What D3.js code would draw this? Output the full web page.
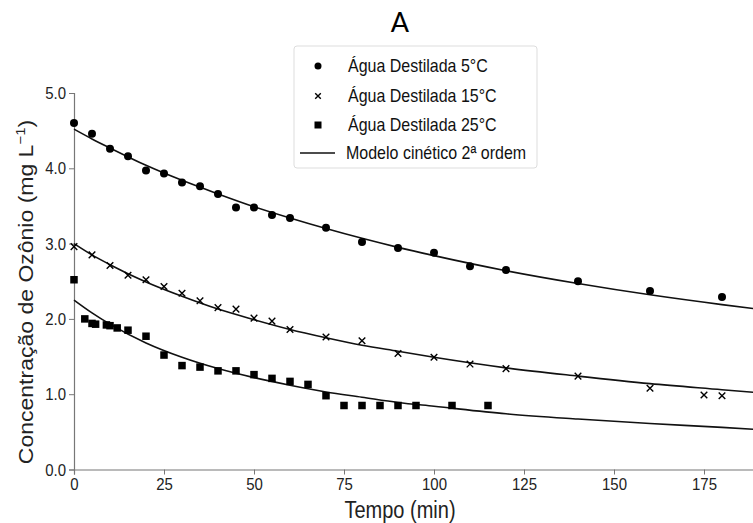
<!DOCTYPE html>
<html>
<head>
<meta charset="utf-8">
<script src="https://cdn.jsdelivr.net/npm/d3@7"></script>
<style>
  body { margin: 0; background: #fff; }
  svg { display: block; font-family: "Liberation Sans", Arial, sans-serif; }
</style>
</head>
<body>
<div id="chart"></div>
<script>
// measured points (min, mg/L)
const t5 = [0, 5, 10, 15, 20, 25, 30, 35, 40, 45, 50, 55, 60, 70, 80, 90, 100, 110, 120, 140, 160, 180];
const c5 = [4.60, 4.46, 4.26, 4.16, 3.97, 3.93, 3.81, 3.76, 3.66, 3.48, 3.48, 3.38, 3.34, 3.21, 3.02, 2.94, 2.88, 2.70, 2.65, 2.50, 2.37, 2.29];

const t15 = [0, 5, 10, 15, 20, 25, 30, 35, 40, 45, 50, 55, 60, 70, 80, 90, 100, 110, 120, 140, 160, 175, 180];
const c15 = [2.96, 2.85, 2.71, 2.58, 2.52, 2.43, 2.34, 2.24, 2.15, 2.13, 2.01, 1.97, 1.86, 1.76, 1.71, 1.54, 1.49, 1.40, 1.34, 1.24, 1.08, 0.99, 0.98];

const t25 = [0, 3, 5, 6, 9, 10, 12, 15, 20, 25, 30, 35, 40, 45, 50, 55, 60, 65, 70, 75, 80, 85, 90, 95, 105, 115];
const c25 = [2.52, 2.00, 1.94, 1.93, 1.92, 1.91, 1.88, 1.85, 1.77, 1.52, 1.38, 1.36, 1.31, 1.31, 1.26, 1.21, 1.17, 1.13, 0.98, 0.85, 0.85, 0.85, 0.85, 0.85, 0.85, 0.85];

// 2nd order model curves
const tModel = [0, 5, 10, 20, 30, 40, 50, 60, 70, 80, 90, 100, 120, 140, 160, 180, 190];
const m5  = [4.52, 4.39, 4.27, 4.04, 3.84, 3.66, 3.49, 3.34, 3.20, 3.07, 2.95, 2.84, 2.64, 2.47, 2.32, 2.19, 2.13];
const m15 = [3.00, 2.85, 2.72, 2.49, 2.30, 2.13, 1.99, 1.86, 1.75, 1.65, 1.57, 1.49, 1.35, 1.24, 1.14, 1.06, 1.02];
const m25 = [2.25, 2.08, 1.93, 1.68, 1.49, 1.34, 1.22, 1.12, 1.03, 0.96, 0.89, 0.84, 0.74, 0.67, 0.61, 0.56, 0.53];

const xTicks = [0, 25, 50, 75, 100, 125, 150, 175];
const yTicks = [0, 1, 2, 3, 4, 5];
const legendLabels = ["Água Destilada 5°C", "Água Destilada 15°C", "Água Destilada 25°C", "Modelo cinético 2ª ordem"];

const W = 753, H = 523;
const stretch = 1.15; // the source figure is a bit taller than wide
const svg = d3.select("#chart").append("svg").attr("width", W).attr("height", H);

const x = d3.scaleLinear().domain([0, 190]).range([74, 758]);
const y = d3.scaleLinear().domain([0, 5]).range([469.5, 93]);

const axisColor = "#777";

// title
svg.append("text").attr("transform", "translate(400,32)").attr("text-anchor", "middle")
  .style("font-family", "Lato, 'Open Sans', sans-serif").style("font-size", "27px").style("fill", "#000")
  .text("A");

// axes
const gx = svg.append("g").attr("transform", `translate(0,${y(0)})`)
  .call(d3.axisBottom(x).tickValues(xTicks).tickSize(5).tickPadding(2).tickFormat(d3.format("d")));
const gy = svg.append("g").attr("transform", `translate(${x(0)},0)`)
  .call(d3.axisLeft(y).tickValues(yTicks).tickSize(5).tickPadding(3).tickFormat(d3.format(".1f")));
[gx, gy].forEach(g => {
  g.select(".domain").attr("stroke", axisColor).attr("stroke-width", 1.2);
  g.selectAll(".tick line").attr("stroke", axisColor);
  g.selectAll(".tick text").attr("fill", "#222").style("font-size", "15px")
    .style("font-family", "'Liberation Sans', Arial, sans-serif")
    .attr("transform", `scale(1,${stretch})`);
});

// axis titles
svg.append("text").attr("transform", `translate(400,518) scale(1,${stretch})`).attr("text-anchor", "middle")
  .style("font-size", "20px").attr("fill", "#222").text("Tempo (min)");
const yl = svg.append("text").attr("transform", `translate(33,292) rotate(-90) scale(${stretch},1)`)
  .attr("text-anchor", "middle").style("font-size", "20px").attr("fill", "#222");
yl.append("tspan").text("Concentração de Ozônio (mg L");
yl.append("tspan").attr("dy", -8).style("font-size", "13px").text("−1");
yl.append("tspan").attr("dy", 8).text(")");

// model lines
const line = d3.line().x((d, i) => x(tModel[i])).y(d => y(d)).curve(d3.curveMonotoneX);
const plot = svg.append("g");
[m5, m15, m25].forEach(m => {
  plot.append("path").attr("d", line(m)).attr("fill", "none").attr("stroke", "#111").attr("stroke-width", 1.6);
});

// markers
plot.selectAll("circle.p5").data(t5).enter().append("circle")
  .attr("cx", d => x(d)).attr("cy", (d, i) => y(c5[i])).attr("r", 4).attr("fill", "#000");

const cross = d3.symbol().type(d3.symbolX).size(30);
plot.selectAll("path.p15").data(t15).enter().append("path")
  .attr("d", cross).attr("transform", (d, i) => `translate(${x(d)},${y(c15[i])})`)
  .attr("fill", "none").attr("stroke", "#000").attr("stroke-width", 1.4);

const sq = 7.5;
plot.selectAll("rect.p25").data(t25).enter().append("rect")
  .attr("x", d => x(d) - sq / 2).attr("y", (d, i) => y(c25[i]) - sq / 2)
  .attr("width", sq).attr("height", sq).attr("fill", "#000");

// legend
const lg = svg.append("g");
lg.append("rect").attr("x", 294).attr("y", 46).attr("width", 243).attr("height", 122).attr("rx", 3)
  .attr("fill", "#fff").attr("stroke", "#ddd");
const rowY = [66, 96, 125, 153];
lg.append("circle").attr("cx", 318).attr("cy", rowY[0]).attr("r", 3.5).attr("fill", "#000");
lg.append("path").attr("d", d3.symbol().type(d3.symbolX).size(22)).attr("transform", `translate(318,${rowY[1]})`)
  .attr("stroke", "#000").attr("stroke-width", 1.4);
lg.append("rect").attr("x", 314.5).attr("y", rowY[2] - 3.5).attr("width", 7).attr("height", 7).attr("fill", "#000");
lg.append("line").attr("x1", 300).attr("x2", 335).attr("y1", rowY[3]).attr("y2", rowY[3])
  .attr("stroke", "#111").attr("stroke-width", 1.6);
lg.selectAll("text.l").data(legendLabels).enter().append("text")
  .attr("transform", (d, i) => `translate(${i < 3 ? 348 : 346},${rowY[i] + 6}) scale(1,${stretch})`)
  .style("font-size", "16px").attr("fill", "#111").text(d => d);
</script>
</body>
</html>
